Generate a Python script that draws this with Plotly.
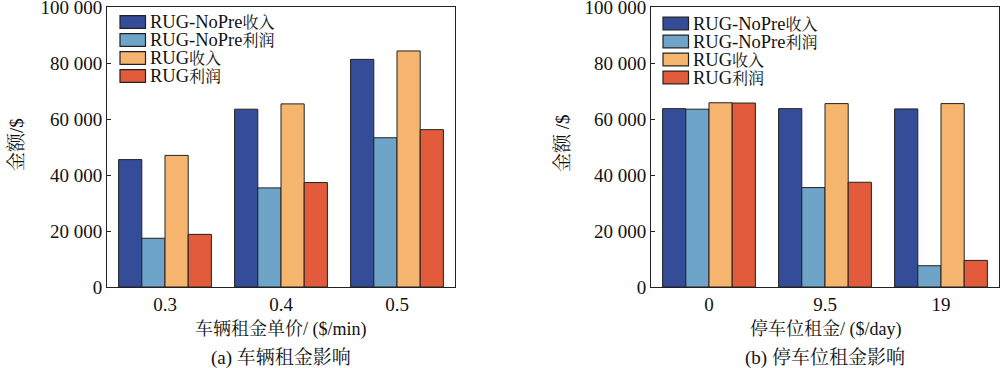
import plotly.graph_objects as go

W, H = 1000, 368

# ---- data ----
series_names = ["RUG-NoPre收入", "RUG-NoPre利润", "RUG收入", "RUG利润"]
colors = ["#354C99", "#6FA4C9", "#F6B56E", "#E25C3B"]

cats_a = ["0.3", "0.4", "0.5"]
a_nopre_rev = [45500, 63500, 81300]
a_nopre_profit = [17400, 35400, 53300]
a_rug_rev = [47000, 65400, 84300]
a_rug_profit = [18800, 37300, 56200]

cats_b = ["0", "9.5", "19"]
b_nopre_rev = [63700, 63700, 63600]
b_nopre_profit = [63500, 35500, 7600]
b_rug_rev = [65800, 65500, 65500]
b_rug_profit = [65700, 37400, 9500]

yticks = [0, 20000, 40000, 60000, 80000, 100000]
yticktext = ["0", "20 000", "40 000", "60 000", "80 000", "100 000"]

xtitle_a = "车辆租金单价/ ($/min)"
xtitle_b = "停车位租金/ ($/day)"
ytitle_a = "金额/$"
ytitle_b = "金额 /$"
sub_a = "(a) 车辆租金影响"
sub_b = "(b) 停车位租金影响"

FONT = "Liberation Serif, Times New Roman, Noto Serif CJK SC, Noto Sans CJK SC, serif"

def px(x):
    return x / W

def py(y):
    return 1 - y / H

def mixed(text, cjk_size):
    out = []
    for ch in text:
        if ord(ch) > 0x2E80:
            out.append(f"<span style='font-size:{cjk_size}px'>{ch}</span>")
        else:
            out.append(ch)
    return "".join(out)

fig = go.Figure()

data_a = [a_nopre_rev, a_nopre_profit, a_rug_rev, a_rug_profit]
data_b = [b_nopre_rev, b_nopre_profit, b_rug_rev, b_rug_profit]

for name, col, vals in zip(series_names, colors, data_a):
    fig.add_trace(go.Bar(x=cats_a, y=vals, name=name, marker_color=col,
                         marker_line=dict(color="#222222", width=1),
                         xaxis="x", yaxis="y", showlegend=False))
for name, col, vals in zip(series_names, colors, data_b):
    fig.add_trace(go.Bar(x=cats_b, y=vals, name=name, marker_color=col,
                         marker_line=dict(color="#222222", width=1),
                         xaxis="x2", yaxis="y2", showlegend=False))

ydom = [1 - 287 / H, 1 - 7 / H]
axis_common = dict(showline=True, linecolor="#222222", linewidth=1, mirror=True,
                   showgrid=False, zeroline=False, automargin=False,
                   tickfont=dict(family=FONT, size=19, color="#111111"))

fig.update_layout(
    width=W, height=H,
    margin=dict(l=0, r=0, t=0, b=0, autoexpand=False),
    paper_bgcolor="white", plot_bgcolor="white",
    barmode="group", bargap=0.2, bargroupgap=0,
    font=dict(family=FONT, size=18, color="#111111"),
    xaxis=dict(domain=[px(107), px(455)], anchor="y", type="category",
               ticks="", **axis_common),
    yaxis=dict(domain=ydom, anchor="x", range=[0, 100000],
               tickvals=yticks, ticktext=yticktext, ticklabeloverflow="allow",
               ticks="inside", ticklen=4, tickcolor="#222222", **axis_common),
    xaxis2=dict(domain=[px(651), px(999)], anchor="y2", type="category",
                ticks="", **axis_common),
    yaxis2=dict(domain=ydom, anchor="x2", range=[0, 100000],
                tickvals=yticks, ticktext=yticktext, ticklabeloverflow="allow",
                ticks="inside", ticklen=4, tickcolor="#222222", **axis_common),
)

shapes = []
annotations = []

def add_legend(x0, row_centers):
    for name, col, yc in zip(series_names, colors, row_centers):
        shapes.append(dict(type="rect", xref="paper", yref="paper",
                           x0=px(x0), x1=px(x0 + 25.5), y0=py(yc + 6.3), y1=py(yc - 6.3),
                           fillcolor=col, line=dict(color="#222222", width=1.2)))
        annotations.append(dict(xref="paper", yref="paper", x=px(x0 + 28), y=py(yc),
                                text=mixed(name, 16), showarrow=False,
                                xanchor="left", yanchor="middle",
                                font=dict(family=FONT, size=18.5, color="#111111")))

add_legend(120, [22, 40, 58, 76])
add_legend(663, [23.5, 41.5, 59.5, 77.5])

def add_text(x, y, text, angle=0, size=18):
    annotations.append(dict(xref="paper", yref="paper", x=px(x), y=py(y), text=text,
                            showarrow=False, xanchor="center", yanchor="middle",
                            textangle=angle,
                            font=dict(family=FONT, size=size, color="#111111")))

add_text(281, 329, xtitle_a, size=18)
add_text(825, 329, xtitle_b, size=18)
add_text(281, 358, sub_a, size=19)
add_text(825, 358, sub_b, size=19)
add_text(16, 145, ytitle_a, angle=-90, size=19)
add_text(562, 143, ytitle_b, angle=-90, size=19)

fig.update_layout(shapes=shapes, annotations=annotations)

fig.write_html("out.html", config={"displayModeBar": False},
               post_script="document.body.style.margin='0';document.body.style.overflow='hidden';")
